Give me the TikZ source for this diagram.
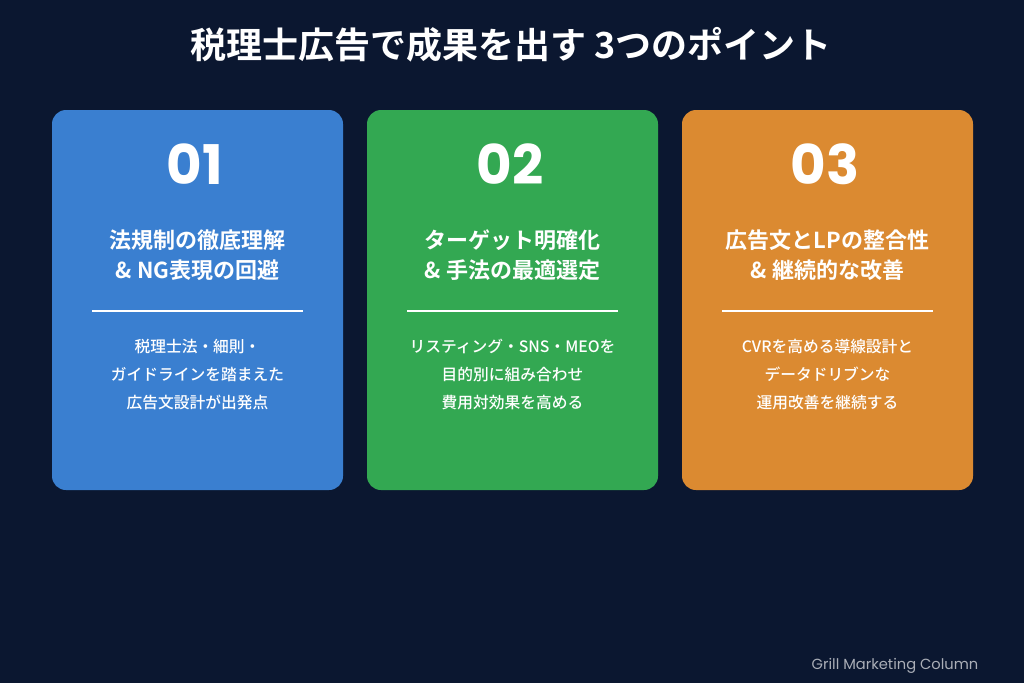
\documentclass[tikz,border=0pt]{standalone}
\usepackage{fontspec}
\setmainfont{Noto Sans CJK JP}[BoldFont={Noto Sans CJK JP Bold}]
\newfontfamily\medfont{Noto Sans CJK JP Medium}
\newfontfamily\numfont{Poppins}[BoldFont={Poppins Bold}]
\begin{document}
\begin{tikzpicture}[x=0.75pt,y=-0.75pt,
  card/.style={rounded corners=10.5pt},
  num/.style={text=white,font=\numfont\bfseries\fontsize{41}{44}\selectfont},
  head/.style={text=white,font=\bfseries\fontsize{16.5}{22.5}\selectfont,align=center},
  body/.style={text=white,font=\medfont\fontsize{11.8}{21}\selectfont,align=center}]
\definecolor{bg}{HTML}{0B1730}
\definecolor{cblue}{HTML}{3A7FD0}
\definecolor{cgreen}{HTML}{33A852}
\definecolor{corange}{HTML}{DB8A31}
\fill[bg] (0,0) rectangle (1024,683);
\useasboundingbox (0,0) rectangle (1024,683);
\node[text=white,font=\bfseries\fontsize{27}{30}\selectfont] (title) at (511,45) {税理士広告で成果を出す 3つのポイント};
\foreach \i/\x/\c/\n/\ha/\hb/\ba/\bb/\bc in {
 a/52/cblue/01/法規制の徹底理解/\& NG表現の回避/税理士法・細則・/ガイドラインを踏まえた/広告文設計が出発点,
 b/367/cgreen/02/ターゲット明確化/\& 手法の最適選定/リスティング・SNS・MEOを/目的別に組み合わせ/費用対効果を高める,
 c/682/corange/03/広告文とLPの整合性/\& 継続的な改善/CVRを高める導線設計と/データドリブンな/運用改善を継続する}{
  \fill[\c,card] (\x,110) rectangle ++(291,380);
  \node[num] (n\i) at (\x+143,164) {\n};
  \node[head] (h\i) at (\x+145.5,255) {\ha\\\hb};
  \draw[white,line width=1.5pt] (\x+40,311) coordinate (l\i) -- (\x+251,311) coordinate (r\i);
  \node[body] (b\i) at (\x+145.5,375) {\ba\\\bb\\\bc};
}
\node[anchor=east,text=white!65!bg,font=\numfont\fontsize{11}{12}\selectfont] (foot) at (983,666) {Grill Marketing Column};
\end{tikzpicture}
\end{document}
